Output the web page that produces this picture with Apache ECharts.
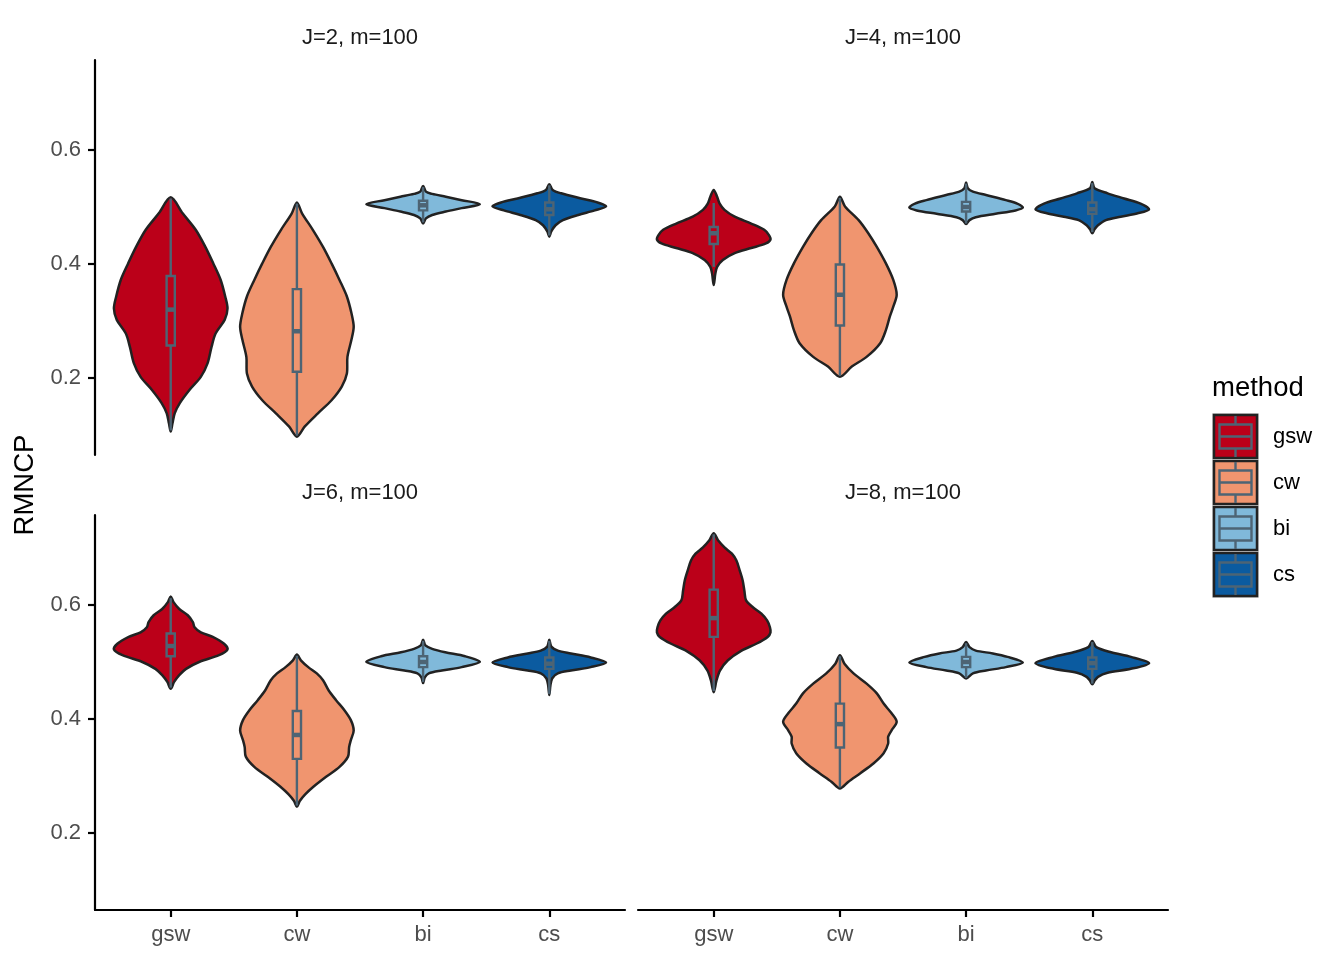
<!DOCTYPE html>
<html>
<head>
<meta charset="utf-8">
<title>RMNCP by method</title>
<script src="https://cdn.jsdelivr.net/npm/echarts@6/dist/echarts.min.js"></script>
<style>
html, body { margin: 0; padding: 0; background: #fff; }
#main { width: 1344px; height: 960px; }
</style>
</head>
<body>
<div id="main"></div>
<script>
var methods = ['gsw', 'cw', 'bi', 'cs'];
var colors = ['#BB0019', '#F0956F', '#80B9DA', '#0B5BA0'];
var facets = ['J=2, m=100', 'J=4, m=100', 'J=6, m=100', 'J=8, m=100'];
var yTicks = [0.2, 0.4, 0.6];
var xTicks = [1, 2, 3, 4];

// violin outlines, top to bottom: [RMNCP, relative half width]
var violinJ2 = [
    [[0.517,0],[0.489,0.21],[0.460,0.44],[0.430,0.61],[0.401,0.75],[0.372,0.88],[0.343,0.96],[0.322,1.0],[0.302,0.95],[0.278,0.79],[0.255,0.72],[0.226,0.65],[0.202,0.53],[0.179,0.33],[0.156,0.16],[0.138,0.07],[0.120,0.03],[0.106,0]],
    [[0.508,0],[0.489,0.09],[0.460,0.28],[0.430,0.46],[0.401,0.61],[0.372,0.75],[0.343,0.88],[0.314,0.96],[0.290,1.0],[0.267,0.96],[0.237,0.89],[0.208,0.88],[0.185,0.79],[0.161,0.61],[0.138,0.37],[0.115,0.14],[0.097,0]],
    [[0.537,0],[0.527,0.05],[0.523,0.16],[0.518,0.40],[0.512,0.68],[0.505,1.0],[0.498,0.68],[0.492,0.40],[0.486,0.16],[0.480,0.05],[0.471,0]],
    [[0.540,0],[0.530,0.06],[0.524,0.21],[0.515,0.56],[0.508,0.85],[0.501,1.0],[0.494,0.80],[0.486,0.51],[0.477,0.24],[0.468,0.11],[0.457,0.035],[0.448,0]]
];
var violinJ4 = [
    [[0.530,0],[0.518,0.06],[0.506,0.105],[0.495,0.19],[0.483,0.37],[0.471,0.66],[0.460,0.89],[0.451,0.97],[0.443,1.0],[0.436,0.92],[0.428,0.66],[0.419,0.37],[0.407,0.16],[0.395,0.06],[0.384,0.03],[0.363,0]],
    [[0.518,0],[0.501,0.09],[0.477,0.33],[0.454,0.50],[0.430,0.65],[0.401,0.81],[0.372,0.94],[0.346,1.0],[0.325,0.94],[0.308,0.88],[0.284,0.81],[0.261,0.71],[0.237,0.47],[0.220,0.21],[0.202,0]],
    [[0.543,0],[0.533,0.03],[0.527,0.12],[0.521,0.35],[0.512,0.70],[0.506,0.90],[0.499,1.0],[0.494,0.87],[0.488,0.52],[0.482,0.17],[0.477,0.06],[0.470,0]],
    [[0.544,0],[0.533,0.04],[0.524,0.27],[0.515,0.56],[0.506,0.85],[0.496,1.0],[0.489,0.80],[0.483,0.50],[0.477,0.24],[0.468,0.10],[0.461,0.04],[0.454,0]]
];
var violinJ6 = [
    [[0.615,0],[0.605,0.05],[0.593,0.15],[0.582,0.30],[0.570,0.39],[0.561,0.42],[0.552,0.53],[0.544,0.74],[0.532,0.94],[0.522,1.0],[0.512,0.85],[0.500,0.50],[0.488,0.27],[0.477,0.15],[0.465,0.06],[0.453,0]],
    [[0.513,0],[0.503,0.07],[0.491,0.20],[0.480,0.35],[0.468,0.46],[0.450,0.56],[0.433,0.69],[0.415,0.84],[0.398,0.95],[0.380,1.0],[0.363,0.95],[0.351,0.92],[0.334,0.90],[0.316,0.75],[0.299,0.52],[0.281,0.29],[0.268,0.15],[0.256,0.05],[0.246,0]],
    [[0.539,0],[0.529,0.04],[0.523,0.16],[0.517,0.39],[0.510,0.74],[0.500,1.0],[0.491,0.68],[0.485,0.33],[0.480,0.10],[0.473,0.03],[0.463,0]],
    [[0.539,0],[0.527,0.035],[0.520,0.15],[0.515,0.38],[0.508,0.73],[0.499,1.0],[0.491,0.73],[0.485,0.38],[0.480,0.15],[0.471,0.05],[0.459,0.02],[0.442,0]]
];
var violinJ8 = [
    [[0.726,0],[0.713,0.08],[0.701,0.19],[0.690,0.32],[0.678,0.40],[0.660,0.46],[0.643,0.51],[0.625,0.54],[0.608,0.57],[0.596,0.69],[0.585,0.84],[0.573,0.94],[0.561,0.99],[0.552,1.0],[0.544,0.95],[0.532,0.75],[0.520,0.49],[0.503,0.25],[0.485,0.11],[0.468,0.05],[0.447,0]],
    [[0.512,0],[0.497,0.08],[0.480,0.24],[0.462,0.47],[0.445,0.65],[0.427,0.77],[0.410,0.91],[0.395,1.0],[0.380,0.91],[0.369,0.85],[0.357,0.85],[0.340,0.77],[0.322,0.59],[0.305,0.36],[0.290,0.15],[0.278,0]],
    [[0.535,0],[0.526,0.06],[0.520,0.17],[0.515,0.47],[0.509,0.73],[0.499,1.0],[0.491,0.70],[0.485,0.35],[0.480,0.12],[0.471,0]],
    [[0.537,0],[0.526,0.07],[0.517,0.33],[0.509,0.68],[0.498,1.0],[0.488,0.68],[0.481,0.27],[0.474,0.10],[0.467,0.04],[0.461,0]]
];

// boxplot stats: [lower whisker, q1, median, q3, upper whisker]
var boxJ2 = [[0.108,0.257,0.320,0.379,0.515],[0.099,0.211,0.282,0.356,0.506],[0.473,0.494,0.503,0.511,0.535],[0.450,0.486,0.496,0.508,0.538]];
var boxJ4 = [[0.395,0.435,0.454,0.465,0.507],[0.204,0.292,0.346,0.399,0.516],[0.471,0.492,0.500,0.509,0.541],[0.456,0.488,0.496,0.508,0.542]];
var boxJ6 = [[0.455,0.510,0.528,0.550,0.612],[0.248,0.330,0.372,0.414,0.511],[0.465,0.491,0.500,0.510,0.537],[0.444,0.488,0.497,0.508,0.537]];
var boxJ8 = [[0.449,0.544,0.577,0.627,0.724],[0.280,0.350,0.391,0.427,0.510],[0.472,0.491,0.500,0.509,0.533],[0.462,0.488,0.498,0.508,0.535]];

var violins = [violinJ2, violinJ4, violinJ6, violinJ8];
var boxes = [boxJ2, boxJ4, boxJ6, boxJ8];

var FONT = "'Liberation Sans', Arial, Helvetica, sans-serif";
var boxColor = '#4D6474';
var outline = '#222222';
var yMin = 0.0649, yMax = 0.7579;

var grids = [
    { left: 95, top: 60, width: 530, height: 395 },
    { left: 638, top: 60, width: 530, height: 395 },
    { left: 95, top: 515, width: 530, height: 395 },
    { left: 638, top: 515, width: 530, height: 395 }
];

function makeRender(prof, stats) {
    return function (params, api) {
        var k = params.dataIndex;
        var unit = api.size([1, 0])[0];
        var cx = api.coord([k + 1, 0.5])[0];
        var hw = unit * 0.45;
        var p = prof[k];
        var right = [], left = [];
        p.forEach(function (d, j) {
            var y = api.coord([k + 1, d[0]])[1];
            right.push([cx + d[1] * hw, y]);
            if (j > 0 && j < p.length - 1) left.unshift([cx - d[1] * hw, y]);
        });
        var b = stats[k];
        var yy = b.map(function (v) { return api.coord([k + 1, v])[1]; });
        var bw = unit * 0.065;
        return {
            type: 'group',
            children: [
                { type: 'polygon', shape: { points: right.concat(left), smooth: 0.3 },
                  style: { fill: colors[k], stroke: outline, lineWidth: 2.5 } },
                { type: 'line', shape: { x1: cx, y1: yy[4], x2: cx, y2: yy[0] },
                  style: { stroke: boxColor, lineWidth: 2.4 } },
                { type: 'rect', shape: { x: cx - bw / 2, y: yy[3], width: bw, height: yy[1] - yy[3] },
                  style: { fill: colors[k], stroke: boxColor, lineWidth: 2.4 } },
                { type: 'line', shape: { x1: cx - bw / 2, y1: yy[2], x2: cx + bw / 2, y2: yy[2] },
                  style: { stroke: boxColor, lineWidth: 4.5 } }
            ]
        };
    };
}

var xAxes = [], yAxes = [], series = [], graphics = [];
grids.forEach(function (g, i) {
    var bottom = i >= 2, leftSide = i % 2 === 0;
    xAxes.push({
        type: 'value', gridIndex: i, min: 0.4, max: 4.6, show: bottom,
        splitLine: { show: false },
        axisLine: { lineStyle: { color: '#000', width: 2.2 } },
        axisTick: { customValues: xTicks, length: 7, lineStyle: { color: '#000', width: 2.2 } },
        axisLabel: {
            customValues: xTicks, margin: 14, fontSize: 22, color: '#4D4D4D', fontFamily: FONT,
            formatter: function (v) { return methods[Math.round(v) - 1]; }
        }
    });
    yAxes.push({
        type: 'value', gridIndex: i, min: yMin, max: yMax, show: leftSide,
        splitLine: { show: false },
        axisLine: { show: true, lineStyle: { color: '#000', width: 2.2 } },
        axisTick: { show: true, customValues: yTicks, length: 7, lineStyle: { color: '#000', width: 2.2 } },
        axisLabel: {
            customValues: yTicks, margin: 14, fontSize: 22, color: '#4D4D4D', fontFamily: FONT,
            formatter: function (v) { return v.toFixed(1); }
        }
    });
    series.push({
        type: 'custom', xAxisIndex: i, yAxisIndex: i,
        renderItem: makeRender(violins[i], boxes[i]),
        data: methods.map(function (m, k) { return [k + 1, boxes[i][k][2]]; }),
        silent: true
    });
    graphics.push({
        type: 'text', x: g.left + g.width / 2, y: g.top - 22,
        style: { text: facets[i], font: '22px ' + FONT, fill: '#1A1A1A', textAlign: 'center', textVerticalAlign: 'middle' }
    });
});

// y axis title
graphics.push({
    type: 'text', x: 25, y: 485, rotation: Math.PI / 2,
    style: { text: 'RMNCP', font: '27.5px ' + FONT, fill: '#000', textAlign: 'center', textVerticalAlign: 'middle' }
});

// legend
graphics.push({
    type: 'text', x: 1212, y: 388,
    style: { text: 'method', font: '27.5px ' + FONT, fill: '#000', textAlign: 'left', textVerticalAlign: 'middle' }
});
methods.forEach(function (m, k) {
    var top = 415 + k * 46, kx = 1214, ks = 43, kc = kx + ks / 2;
    graphics.push(
        { type: 'rect', shape: { x: kx - 1.5, y: top - 1.5, width: ks + 3, height: ks + 3 }, style: { fill: 'none', stroke: '#D0D0D0', lineWidth: 1 } },
        { type: 'rect', shape: { x: kx, y: top, width: ks, height: ks }, style: { fill: colors[k], stroke: outline, lineWidth: 2.5 } },
        { type: 'line', shape: { x1: kc, y1: top + 1, x2: kc, y2: top + ks - 1 }, style: { stroke: boxColor, lineWidth: 2.4 } },
        { type: 'rect', shape: { x: kx + 5.5, y: top + 9.5, width: ks - 11, height: 24 }, style: { fill: colors[k], stroke: boxColor, lineWidth: 2.4 } },
        { type: 'line', shape: { x1: kx + 5.5, y1: top + 21.5, x2: kx + ks - 5.5, y2: top + 21.5 }, style: { stroke: boxColor, lineWidth: 2.4 } },
        { type: 'text', x: 1273, y: top + ks / 2,
          style: { text: m, font: '22px ' + FONT, fill: '#000', textAlign: 'left', textVerticalAlign: 'middle' } }
    );
});

var myChart = echarts.init(document.getElementById('main'));
myChart.setOption({
    backgroundColor: '#fff',
    animation: false,
    grid: grids,
    xAxis: xAxes,
    yAxis: yAxes,
    series: series,
    graphic: graphics
});
</script>
</body>
</html>
